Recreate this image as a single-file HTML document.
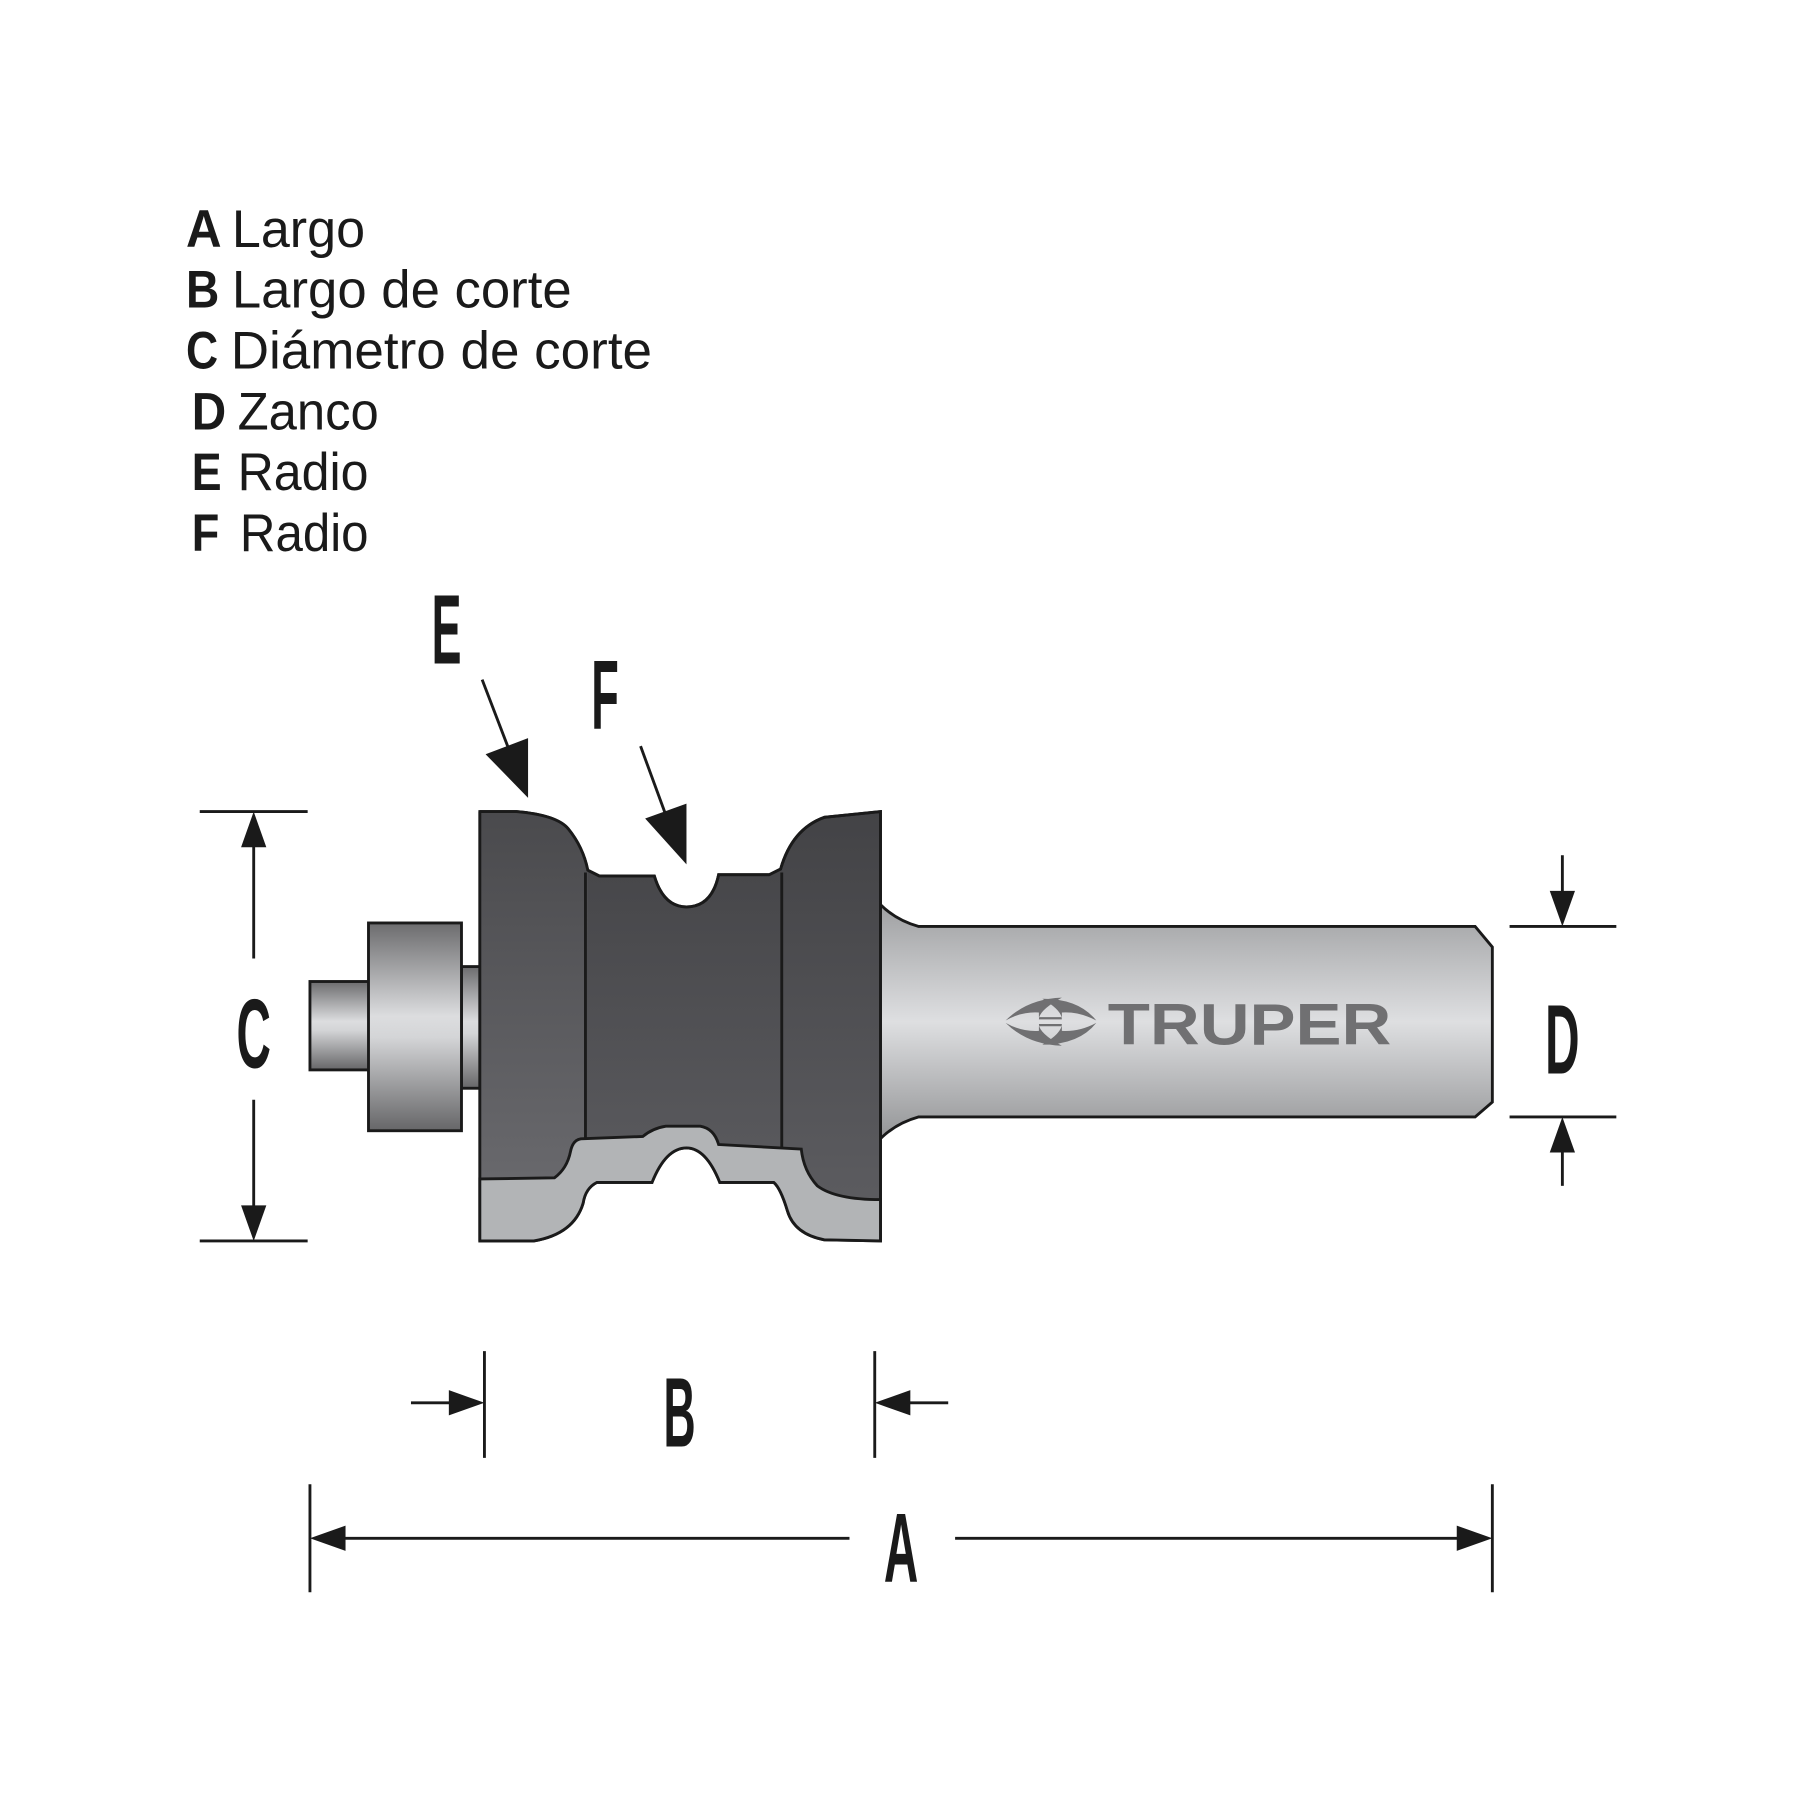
<!DOCTYPE html>
<html><head><meta charset="utf-8"><style>html,body{margin:0;padding:0;background:#fff}svg{display:block}</style></head>
<body>
<svg width="1800" height="1800" viewBox="0 0 1568 1568" xmlns="http://www.w3.org/2000/svg">
<defs>
<linearGradient id="cyl" x1="0" y1="0" x2="0" y2="1">
<stop offset="0" stop-color="#6c6c6e"/><stop offset="0.45" stop-color="#dcdddf"/><stop offset="0.55" stop-color="#d4d5d7"/><stop offset="1" stop-color="#666668"/></linearGradient>
<linearGradient id="shank" x1="0" y1="0" x2="0" y2="1">
<stop offset="0" stop-color="#9a9b9d"/><stop offset="0.5" stop-color="#dedfe1"/><stop offset="1" stop-color="#8e8f91"/></linearGradient>
<linearGradient id="body" x1="0" y1="0" x2="0" y2="1">
<stop offset="0" stop-color="#434346"/><stop offset="1" stop-color="#5e5e62"/></linearGradient>
<linearGradient id="bodyL" x1="0" y1="0" x2="0" y2="1">
<stop offset="0" stop-color="#4a4a4d"/><stop offset="1" stop-color="#68686c"/></linearGradient>
</defs>
<g font-family="Liberation Sans, sans-serif" font-size="46" fill="#1a1a1a">
<text x="162" y="215" font-weight="bold" textLength="31" lengthAdjust="spacingAndGlyphs">A</text>
<text x="202" y="215" textLength="116" lengthAdjust="spacingAndGlyphs">Largo</text>
<text x="162" y="268" font-weight="bold" textLength="29" lengthAdjust="spacingAndGlyphs">B</text>
<text x="202" y="268" textLength="296" lengthAdjust="spacingAndGlyphs">Largo de corte</text>
<text x="162" y="321" font-weight="bold" textLength="28" lengthAdjust="spacingAndGlyphs">C</text>
<text x="201" y="321" textLength="367" lengthAdjust="spacingAndGlyphs">Diámetro de corte</text>
<text x="167" y="374" font-weight="bold" textLength="30" lengthAdjust="spacingAndGlyphs">D</text>
<text x="207" y="374" textLength="123" lengthAdjust="spacingAndGlyphs">Zanco</text>
<text x="167" y="427" font-weight="bold" textLength="26" lengthAdjust="spacingAndGlyphs">E</text>
<text x="207" y="427" textLength="114" lengthAdjust="spacingAndGlyphs">Radio</text>
<text x="167" y="480" font-weight="bold" textLength="24" lengthAdjust="spacingAndGlyphs">F</text>
<text x="209" y="480" textLength="112" lengthAdjust="spacingAndGlyphs">Radio</text>
</g>
<g font-family="Liberation Sans, sans-serif" font-weight="bold" font-size="86" fill="#1a1a1a" text-anchor="middle">
<text x="389" y="578" textLength="26" lengthAdjust="spacingAndGlyphs">E</text>
<text x="527" y="635" textLength="24" lengthAdjust="spacingAndGlyphs">F</text>
<text x="221" y="930" textLength="30" lengthAdjust="spacingAndGlyphs">C</text>
<text x="1361" y="935" textLength="30" lengthAdjust="spacingAndGlyphs">D</text>
<text x="592" y="1260" textLength="28" lengthAdjust="spacingAndGlyphs">B</text>
<text x="785" y="1378" textLength="30" lengthAdjust="spacingAndGlyphs">A</text>
</g>
<g stroke="#1a1a1a" stroke-width="2.5" fill="none">
<line x1="174" y1="707" x2="268" y2="707"/><line x1="174" y1="1081" x2="268" y2="1081"/>
<line x1="221" y1="735" x2="221" y2="835"/><line x1="221" y1="958" x2="221" y2="1052"/>
<line x1="1315" y1="807" x2="1408" y2="807"/><line x1="1315" y1="973" x2="1408" y2="973"/>
<line x1="1361" y1="745" x2="1361" y2="780"/><line x1="1361" y1="1000" x2="1361" y2="1033"/>
<line x1="422" y1="1177" x2="422" y2="1270"/><line x1="762" y1="1177" x2="762" y2="1270"/>
<line x1="358" y1="1222" x2="395" y2="1222"/><line x1="790" y1="1222" x2="826" y2="1222"/>
<line x1="270" y1="1293" x2="270" y2="1387"/><line x1="1300" y1="1293" x2="1300" y2="1387"/>
<line x1="298" y1="1340" x2="740" y2="1340"/><line x1="832" y1="1340" x2="1272" y2="1340"/>
<line x1="420" y1="592" x2="443" y2="652"/><line x1="558" y1="650" x2="580" y2="710"/>
</g>
<g fill="#1a1a1a">
<polygon points="221,707 210,738 232,738"/><polygon points="221,1081 210,1050 232,1050"/>
<polygon points="1361,807 1350,776 1372,776"/><polygon points="1361,973 1350,1004 1372,1004"/>
<polygon points="422,1222 391,1211 391,1233"/><polygon points="762,1222 793,1211 793,1233"/>
<polygon points="270,1340 301,1329 301,1351"/><polygon points="1300,1340 1269,1329 1269,1351"/>
<polygon points="460,695 423,657 460,643"/><polygon points="598,753 562,713 598,700"/>
</g>
<g stroke="#1a1a1a" stroke-width="2.5">
<rect x="270" y="855" width="52" height="77" fill="url(#cyl)"/>
<rect x="402" y="842" width="18" height="106" fill="url(#cyl)"/>
<rect x="321" y="804" width="81" height="181" fill="url(#cyl)"/>
<path d="M760 780 Q775 800 800 807 L1285 807 L1300 825 L1300 960 L1285 973 L800 973 Q775 980 760 1000 Z" fill="url(#shank)"/>
<path d="M418 707 L450 707 Q485 710 495 722 Q508 738 512 758 L522 763 L570 763 Q578 790 598 790 Q620 790 626 762 L670 762 L680 757 Q690 722 718 712 L767 707 L767 1081 L718 1080 Q692 1075 686 1055 Q680 1035 674 1030 L627 1030 Q615 1000 598 1000 Q580 1000 568 1030 L520 1030 Q510 1035 508 1048 Q500 1075 465 1081 L418 1081 Z" fill="url(#body)"/>
<path d="M418 707 L450 707 Q485 710 495 722 Q508 738 512 758 L510 1027 L418 1027 Z" fill="url(#bodyL)" stroke="none"/>
<path d="M418 707 L450 707 Q485 710 495 722 Q508 738 512 758 L522 763 L570 763 Q578 790 598 790 Q620 790 626 762 L670 762 L680 757 Q690 722 718 712 L767 707 L767 1081" fill="none"/>
<line x1="418" y1="707" x2="418" y2="1081"/>
<line x1="510" y1="760" x2="510" y2="993"/><line x1="681" y1="760" x2="681" y2="1000"/>
<path d="M418 1027 L483 1026 Q494 1018 497 1003 Q499 993 506 992 L560 990 Q568 983 580 981 L610 981 Q622 983 626 997 L698 1001 Q700 1020 712 1033 Q728 1045 767 1045 L767 1081 L718 1080 Q692 1075 686 1055 Q680 1035 674 1030 L627 1030 Q615 1000 598 1000 Q580 1000 568 1030 L520 1030 Q510 1035 508 1048 Q500 1075 465 1081 L418 1081 Z" fill="#b2b4b6"/>
</g>
<g fill="#707072">
<path d="M876 889 Q895 870 925 869 Q905 880 905 888 L925 888 Q925 880 908 870 Q940 870 955 889 Q940 881 925 882 L925 886 L905 886 L905 882 Q890 881 876 889 Z"/>
<path d="M876 891 Q890 899 905 898 L905 894 L925 894 Q925 894 925 898 Q940 899 955 891 Q940 910 908 910 Q925 900 925 892 L905 892 Q905 900 925 911 Q895 910 876 891 Z"/>
<text x="965" y="910" font-family="Liberation Sans, sans-serif" font-weight="bold" font-size="51" textLength="247" lengthAdjust="spacingAndGlyphs">TRUPER</text>
</g>
</svg>
</body></html>
